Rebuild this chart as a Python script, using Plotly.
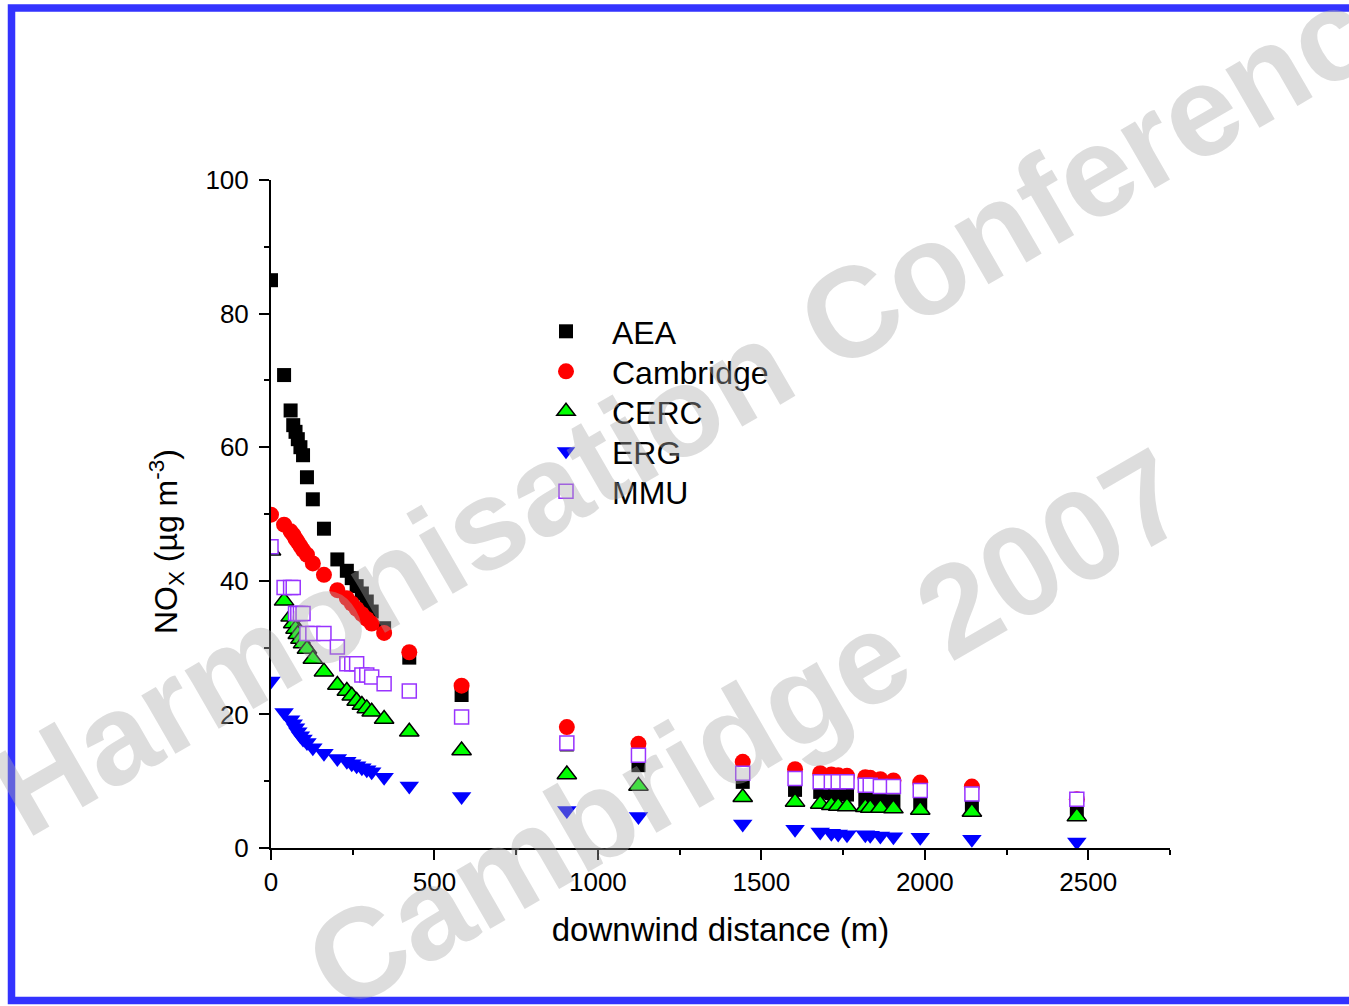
import plotly.graph_objects as go

distance = [0, 40, 60, 68, 75, 82, 90, 98, 110, 128, 162, 203, 232, 247, 262, 278, 293, 308, 346,
            423, 583, 905, 1124, 1443, 1603, 1680, 1714, 1735, 1762, 1818, 1833, 1864, 1904, 1986, 2144, 2465]

aea = [85.0, 70.8, 65.5, 63.3, 62.3, 61.2, 60.0, 58.8, 55.5, 52.2, 47.8, 43.2, 41.5, 40.4, 39.2, 38.1, 36.9, 35.4, 32.9,
       28.5, 22.9, 15.5, 12.4, 9.9, 8.7, 8.4, 8.2, 8.1, 8.0, 7.3, 7.2, 7.1, 7.0, 6.8, 6.3, 5.7]
cambridge = [49.9, 48.4, 47.4, 46.9, 46.3, 45.8, 45.2, 44.6, 43.9, 42.6, 40.9, 38.6, 37.4, 36.6, 35.8, 35.0, 34.3, 33.6, 32.2,
             29.3, 24.3, 18.1, 15.6, 12.9, 11.8, 11.2, 11.0, 10.9, 10.8, 10.6, 10.5, 10.3, 10.1, 9.8, 9.2, 7.3]
cerc = [44.5, 37.0, 34.6, 33.6, 32.8, 32.0, 31.3, 30.6, 29.8, 28.3, 26.4, 24.4, 23.5, 22.8, 22.0, 21.4, 20.9, 20.4, 19.3,
        17.4, 14.6, 11.0, 9.3, 7.6, 6.9, 6.6, 6.4, 6.3, 6.2, 6.1, 6.0, 6.0, 5.9, 5.7, 5.4, 4.7]
erg = [25.0, 20.3, 19.2, 18.6, 18.0, 17.4, 16.8, 16.3, 15.8, 15.0, 14.2, 13.4, 13.0, 12.6, 12.3, 12.0, 11.7, 11.4, 10.6,
       9.3, 7.7, 5.6, 4.7, 3.6, 2.8, 2.4, 2.2, 2.1, 2.0, 2.0, 1.9, 1.8, 1.7, 1.6, 1.3, 0.9]
mmu = [45.1, 39.0, 39.0, 39.0, 35.1, 35.1, 35.1, 35.1, 32.1, 32.1, 32.1, 30.1, 27.6, 27.6, 27.6, 25.9, 25.9, 25.6, 24.6,
       23.5, 19.6, 15.7, 13.9, 11.2, 10.4, 9.9, 9.9, 9.9, 9.9, 9.4, 9.4, 9.2, 9.2, 8.6, 8.1, 7.3]

FONT = "Arial, 'Liberation Sans', sans-serif"

W, H = 1349, 1006
L, R, T, B = 271, 1170, 180, 848


def px(xp):
    return (xp - L) / (R - L)


def py(yp):
    return (B - yp) / (B - T)


fig = go.Figure()
fig.add_trace(go.Scatter(x=distance, y=aea, mode="markers", name="AEA", legend="legend",
                         marker=dict(symbol="square", size=14, color="black", line=dict(width=0))))
fig.add_trace(go.Scatter(x=distance, y=cambridge, mode="markers", name="Cambridge", legend="legend2",
                         marker=dict(symbol="circle", size=16, color="#FF0000", line=dict(width=0))))
fig.add_trace(go.Scatter(x=distance, y=cerc, mode="markers", name="CERC", legend="legend3",
                         marker=dict(symbol="triangle-up", size=17, color="#00FF00",
                                     line=dict(width=1.5, color="black"))))
fig.add_trace(go.Scatter(x=distance, y=erg, mode="markers", name="ERG", legend="legend4",
                         marker=dict(symbol="triangle-down", size=17, color="#0000FF", line=dict(width=0))))
fig.add_trace(go.Scatter(x=distance, y=mmu, mode="markers", name="MMU", legend="legend5",
                         marker=dict(symbol="square", size=14, color="white",
                                     line=dict(width=1.5, color="#9933FF"))))


def leg(row):
    return dict(x=px(520), y=py(304 + 40 * row), xanchor="left", yanchor="top",
                bgcolor="rgba(0,0,0,0)", borderwidth=0, itemwidth=82,
                font=dict(family=FONT, size=32, color="black"))


fig.update_layout(
    width=W, height=H,
    margin=dict(l=L, r=W - R, t=T, b=H - B, pad=0),
    paper_bgcolor="white", plot_bgcolor="white",
    font=dict(family=FONT, color="black", size=26),
    showlegend=True,
    legend=leg(0), legend2=leg(1), legend3=leg(2), legend4=leg(3), legend5=leg(4),
    xaxis=dict(range=[0, 2750], showgrid=False, zeroline=False,
               showline=True, linecolor="black", linewidth=2,
               ticks="outside", ticklen=10, tickwidth=2, tickcolor="black",
               tick0=0, dtick=500, tickfont=dict(size=26, family=FONT),
               minor=dict(ticks="outside", ticklen=5, tickwidth=2, tickcolor="black", dtick=250, tick0=0),
               title=dict(text="downwind distance (m)", font=dict(size=33, family=FONT), standoff=22)),
    yaxis=dict(range=[0, 100], showgrid=False, zeroline=False,
               showline=True, linecolor="black", linewidth=2,
               ticks="outside", ticklen=10, tickwidth=2, tickcolor="black",
               tick0=0, dtick=20, tickfont=dict(size=26, family=FONT), ticklabelstandoff=5,
               minor=dict(ticks="outside", ticklen=5, tickwidth=2, tickcolor="black", dtick=10, tick0=0)),
)

# y-axis title
fig.add_annotation(text="NO<sub>X</sub> (µg m<sup>-3</sup>)", xref="paper", yref="paper",
                   x=px(166), y=py(542), xanchor="center", yanchor="middle", showarrow=False,
                   textangle=-90, font=dict(family=FONT, size=32, color="black"))

# blue frame
fig.add_shape(type="rect", xref="paper", yref="paper",
              x0=px(11.5), x1=px(1400), y0=py(1000.5), y1=py(8),
              line=dict(color="#3333FF", width=7.5), fillcolor="rgba(0,0,0,0)", layer="above")

wm_color = "rgba(170,170,170,0.4)"
fig.add_annotation(text="<b>Harmonisation Conference</b>", xref="paper", yref="paper",
                   x=px(712), y=py(392), xanchor="center", yanchor="middle", showarrow=False,
                   textangle=-30, font=dict(family=FONT, size=128, color=wm_color))
fig.add_annotation(text="<b>Cambridge 2007</b>", xref="paper", yref="paper",
                   x=px(746), y=py(729), xanchor="center", yanchor="middle", showarrow=False,
                   textangle=-30, font=dict(family=FONT, size=128, color=wm_color))

fig.write_html("out.html")
